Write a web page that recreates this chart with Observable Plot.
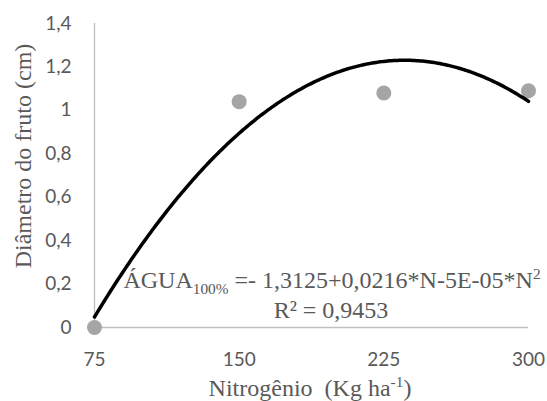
<!DOCTYPE html>
<html><head><meta charset="utf-8">
<script src="https://cdn.jsdelivr.net/npm/d3@7"></script>
<script src="https://cdn.jsdelivr.net/npm/@observablehq/plot@0.6"></script>
<style>
body{margin:0;background:#fff}
#wrap{position:relative;width:547px;height:401px;overflow:hidden}
.lbl{position:absolute;white-space:nowrap;font-family:"Liberation Serif","Times New Roman",serif;color:#595959;line-height:1;transform:translate(-50%,-50%)}
.lbl sub,.lbl sup{font-size:0.64em;line-height:0}
</style></head><body><div id="wrap"></div>
<script>
// Data
const nitrogen = [75, 150, 225, 300];
const diameter = [0, 1.04, 1.08, 1.09];
const xTicks = [75, 150, 225, 300];
const yTicks = [0, 0.2, 0.4, 0.6, 0.8, 1, 1.2, 1.4];
const yTitle = "Diâmetro do fruto (cm)";
const xTitleHTML = "Nitrogênio&nbsp;&nbsp;(Kg ha<sup>-1</sup>)";
const equationHTML = "ÁGUA<sub>100%</sub> =- 1,3125+0,0216*N-5E-05*N<sup>2</sup>";
const r2Text = "R² = 0,9453";

const points = nitrogen.map((n, i) => ({n, d: diameter[i]}));

// Quadratic least-squares trendline fitted to the data
function quadFit(xs, ys) {
  const S = k => d3.sum(xs, x => x ** k);
  const T = k => d3.sum(xs, (x, i) => x ** k * ys[i]);
  const A = [[S(0), S(1), S(2), T(0)], [S(1), S(2), S(3), T(1)], [S(2), S(3), S(4), T(2)]];
  for (let i = 0; i < 3; i++) {
    for (let j = i + 1; j < 3; j++) {
      const f = A[j][i] / A[i][i];
      for (let k = i; k < 4; k++) A[j][k] -= f * A[i][k];
    }
  }
  const c = [0, 0, 0];
  for (let i = 2; i >= 0; i--) {
    let s = A[i][3];
    for (let k = i + 1; k < 3; k++) s -= A[i][k] * c[k];
    c[i] = s / A[i][i];
  }
  return x => c[0] + c[1] * x + c[2] * x * x;
}
const fit = quadFit(nitrogen, diameter);
const curve = d3.range(75, 300.001, 1).map(n => ({n, y: fit(n)}));

const chart = Plot.plot({
  width: 547, height: 401,
  marginLeft: 94, marginRight: 19, marginTop: 23, marginBottom: 74,
  style: {fontFamily: "Lato, 'Open Sans', sans-serif", fontSize: "19px", color: "#595959", background: "#fff"},
  x: {domain: [75, 300]},
  y: {domain: [0, 1.4]},
  marks: [
    Plot.ruleX([75], {stroke: "#bfbfbf", strokeWidth: 1.3}),
    Plot.ruleY([0], {stroke: "#bfbfbf", strokeWidth: 1.3}),
    Plot.axisX({ticks: xTicks, tickSize: 0, tickPadding: 25, label: null, fill: "#595959", tickFormat: d => String(d)}),
    Plot.axisY({ticks: yTicks, tickSize: 0, tickPadding: 23, label: null, fill: "#595959", tickFormat: d => String(d).replace(".", ",")}),
    Plot.dot(points, {x: "n", y: "d", r: 7.5, fill: "#a5a5a5", stroke: "none"}),
    Plot.line(curve, {x: "n", y: "y", stroke: "#000", strokeWidth: 3.5})
  ]
});
const wrap = document.getElementById("wrap");
wrap.appendChild(chart);

function addLabel(html, x, y, size, rotate) {
  const el = document.createElement("div");
  el.className = "lbl";
  el.innerHTML = html;
  el.style.left = x + "px";
  el.style.top = y + "px";
  el.style.fontSize = size + "px";
  if (rotate) el.style.transform = "translate(-50%,-50%) rotate(-90deg)";
  wrap.appendChild(el);
}
addLabel(yTitle, 23, 156, 24, true);
addLabel(xTitleHTML, 310, 388, 24);
addLabel(equationHTML, 332, 280, 24);
addLabel(r2Text, 331, 310, 24);
</script></body></html>
